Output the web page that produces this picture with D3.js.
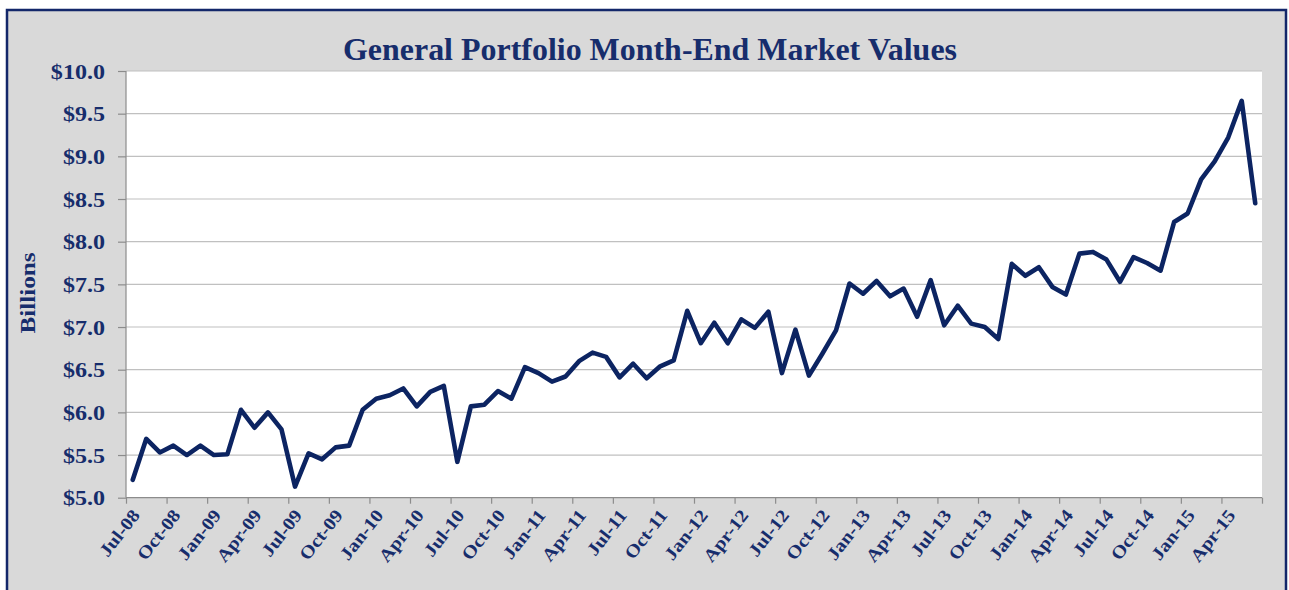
<!DOCTYPE html>
<html>
<head>
<meta charset="utf-8">
<script src="https://cdn.jsdelivr.net/npm/d3@7"></script>
<style>
  html, body { margin: 0; padding: 0; background: #ffffff; }
  svg { display: block; }
  text { font-family: "Liberation Serif", "Times New Roman", serif; font-weight: bold; }
</style>
</head>
<body>
<svg id="chart" width="1289" height="590"></svg>
<script>
// ---- data ----
const chartTitle = "General Portfolio Month-End Market Values";
const yAxisTitle = "Billions";
const categories = [
  "Jul-08","Aug-08","Sep-08","Oct-08","Nov-08","Dec-08",
  "Jan-09","Feb-09","Mar-09","Apr-09","May-09","Jun-09","Jul-09","Aug-09","Sep-09","Oct-09","Nov-09","Dec-09",
  "Jan-10","Feb-10","Mar-10","Apr-10","May-10","Jun-10","Jul-10","Aug-10","Sep-10","Oct-10","Nov-10","Dec-10",
  "Jan-11","Feb-11","Mar-11","Apr-11","May-11","Jun-11","Jul-11","Aug-11","Sep-11","Oct-11","Nov-11","Dec-11",
  "Jan-12","Feb-12","Mar-12","Apr-12","May-12","Jun-12","Jul-12","Aug-12","Sep-12","Oct-12","Nov-12","Dec-12",
  "Jan-13","Feb-13","Mar-13","Apr-13","May-13","Jun-13","Jul-13","Aug-13","Sep-13","Oct-13","Nov-13","Dec-13",
  "Jan-14","Feb-14","Mar-14","Apr-14","May-14","Jun-14","Jul-14","Aug-14","Sep-14","Oct-14","Nov-14","Dec-14",
  "Jan-15","Feb-15","Mar-15","Apr-15","May-15","Jun-15"
];
const marketValues = [
  5.21, 5.69, 5.53, 5.61, 5.50, 5.61,
  5.50, 5.51, 6.03, 5.82, 6.00, 5.80, 5.13, 5.52, 5.45, 5.59, 5.61, 6.03,
  6.16, 6.20, 6.28, 6.07, 6.24, 6.31, 5.42, 6.07, 6.09, 6.25, 6.16, 6.53,
  6.46, 6.36, 6.42, 6.60, 6.70, 6.65, 6.41, 6.57, 6.40, 6.54, 6.61, 7.19,
  6.81, 7.05, 6.81, 7.09, 6.99, 7.18, 6.46, 6.97, 6.43, 6.69, 6.96, 7.51,
  7.39, 7.54, 7.36, 7.45, 7.12, 7.55, 7.02, 7.25, 7.04, 7.00, 6.86, 7.74,
  7.60, 7.70, 7.47, 7.38, 7.86, 7.88, 7.79, 7.53, 7.82, 7.75, 7.66, 8.23,
  8.33, 8.73, 8.94, 9.22, 9.65, 8.45
];
const yTicks = [5.0, 5.5, 6.0, 6.5, 7.0, 7.5, 8.0, 8.5, 9.0, 9.5, 10.0];
const xLabelStep = 3;

// ---- layout ----
const plot = { left: 126, right: 1262, top: 71, bottom: 497.7 };
const navyText = "#172d6c";
const navyLine = "#0c2462";

const svg = d3.select("#chart");

// outer frame
svg.append("rect")
  .attr("x", 7).attr("y", 10).attr("width", 1279).attr("height", 600)
  .attr("fill", "#d9d9d9").attr("stroke", "#13276a").attr("stroke-width", 2.5);

// plot area
svg.append("rect")
  .attr("x", plot.left).attr("y", plot.top)
  .attr("width", plot.right - plot.left).attr("height", plot.bottom - plot.top)
  .attr("fill", "#ffffff");

const x = d3.scaleLinear().domain([0, categories.length]).range([plot.left, plot.right]);
const y = d3.scaleLinear().domain([5, 10]).range([plot.bottom, plot.top]);

// gridlines
svg.append("g")
  .selectAll("line").data(yTicks.filter(v => v > 5)).join("line")
  .attr("x1", plot.left).attr("x2", plot.right)
  .attr("y1", d => y(d)).attr("y2", d => y(d))
  .attr("stroke", "#c0c0c0").attr("stroke-width", 1.2);

// y axis
const yAxis = svg.append("g")
  .attr("transform", `translate(${plot.left},0)`)
  .call(d3.axisLeft(y).tickValues(yTicks).tickSize(8).tickFormat(""));
yAxis.selectAll("path, line").attr("stroke", "#8c8c8c").attr("stroke-width", 1.2);
yAxis.select(".domain").attr("d", `M0,${plot.top}V${plot.bottom}`);

// y tick labels
svg.append("g").selectAll("text").data(yTicks).join("text")
  .attr("transform", d => `translate(105,${y(d)}) scale(1.12,1)`)
  .attr("text-anchor", "end")
  .attr("dy", "0.35em")
  .attr("font-size", 21.5)
  .attr("fill", navyText)
  .text(d => "$" + d.toFixed(1));

// x axis (category boundaries every 3 months)
const xTickVals = d3.range(0, categories.length + 1, xLabelStep);
const xAxis = svg.append("g")
  .attr("transform", `translate(0,${plot.bottom})`)
  .call(d3.axisBottom(x).tickValues(xTickVals).tickSize(6).tickFormat(""));
xAxis.selectAll("path, line").attr("stroke", "#8c8c8c").attr("stroke-width", 1.2);
xAxis.select(".domain").attr("d", `M${plot.left},0H${plot.right}`);

// x tick labels
const labelIdx = d3.range(0, categories.length, xLabelStep);
svg.append("g").selectAll("text").data(labelIdx).join("text")
  .attr("transform", i => `translate(${x(i + 0.5) + 3},${plot.bottom + 14}) rotate(-52) scale(1.12,1)`)
  .attr("text-anchor", "end")
  .attr("dy", "0.35em")
  .attr("font-size", 18)
  .attr("fill", navyText)
  .text(i => categories[i]);

// line
const line = d3.line()
  .x((d, i) => x(i + 0.5))
  .y(d => y(d));
svg.append("path")
  .datum(marketValues)
  .attr("d", line)
  .attr("fill", "none")
  .attr("stroke", navyLine)
  .attr("stroke-width", 4.6)
  .attr("stroke-linejoin", "round")
  .attr("stroke-linecap", "round");

// title
svg.append("text")
  .attr("x", 650).attr("y", 60)
  .attr("text-anchor", "middle")
  .attr("font-size", 31)
  .attr("textLength", 614)
  .attr("lengthAdjust", "spacingAndGlyphs")
  .attr("fill", navyText)
  .text(chartTitle);

// y axis title
svg.append("text")
  .attr("transform", "translate(35,293) rotate(-90) scale(1.2,1)")
  .attr("text-anchor", "middle")
  .attr("font-size", 21)
  .attr("fill", navyText)
  .text(yAxisTitle);
</script>
</body>
</html>
